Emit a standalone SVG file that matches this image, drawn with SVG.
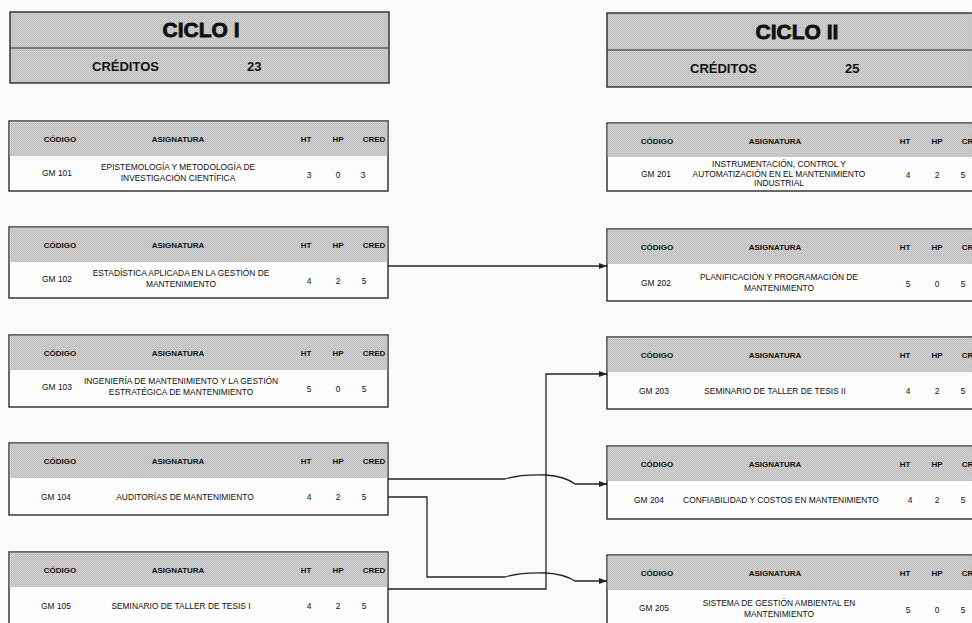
<svg xmlns="http://www.w3.org/2000/svg" width="972" height="623" viewBox="0 0 972 623">
<style>
  text { font-family: "Liberation Sans", Arial, sans-serif; fill: #111; }
  .title { font-size: 21px; font-weight: bold; text-anchor: middle; stroke: #111; stroke-width: 0.8px; }
  .cred { font-size: 13px; font-weight: bold; }
  .th { font-size: 8px; font-weight: bold; text-anchor: middle; }
  .td { font-size: 8.4px; text-anchor: middle; }
  .box { fill: #fcfcfc; stroke: #2a2a2a; stroke-width: 1.4; }
  .gray { fill: url(#dots); }
  .line { stroke: #2a2a2a; stroke-width: 1.2; }
  .conn { fill: none; stroke: #222; stroke-width: 1.3; }
</style>
<defs>
  <pattern id="dots" width="2" height="2" patternUnits="userSpaceOnUse">
    <rect width="2" height="2" fill="#d2d2d2"/>
    <rect width="1" height="1" fill="#b8b8b8"/>
    <rect x="1" y="1" width="1" height="1" fill="#c2c2c2"/>
  </pattern>
  <marker id="arr" viewBox="0 0 8 6" refX="8" refY="3" markerWidth="8" markerHeight="6" markerUnits="userSpaceOnUse" orient="auto">
    <path d="M0,0 L8,3 L0,6 z" fill="#222"/>
  </marker>
</defs>
<rect width="972" height="623" fill="#fafafa"/>

<g id="ciclo1">
  <rect x="10" y="12" width="379" height="71" class="gray" stroke="#2a2a2a" stroke-width="1.4"/>
  <line x1="10" y1="48" x2="389" y2="48" class="line"/>
  <text x="201" y="37" class="title">CICLO I</text>
  <text x="92" y="71" class="cred">CRÉDITOS</text>
  <text x="247" y="71" class="cred">23</text>
</g>
<g id="ciclo2">
  <rect x="607" y="13" width="380" height="74" class="gray" stroke="#2a2a2a" stroke-width="1.4"/>
  <line x1="607" y1="50" x2="987" y2="50" class="line"/>
  <text x="797" y="39" class="title">CICLO II</text>
  <text x="690" y="73" class="cred">CRÉDITOS</text>
  <text x="845" y="73" class="cred">25</text>
</g>

<g id="gm101" transform="translate(9,121)">
  <rect x="0" y="0" width="379" height="70" class="box"/>
  <rect x="0.7" y="0.7" width="377.6" height="34.3" class="gray"/>
  <text x="51" y="21" class="th">CÓDIGO</text><text x="169" y="21" class="th">ASIGNATURA</text>
  <text x="297" y="21" class="th">HT</text><text x="329" y="21" class="th">HP</text><text x="365" y="21" class="th">CRED</text>
  <text x="48" y="55" class="td">GM 101</text>
  <text x="169" y="49" class="td">EPISTEMOLOGÍA Y METODOLOGÍA DE</text>
  <text x="169" y="60" class="td">INVESTIGACIÓN CIENTÍFICA</text>
  <text x="300" y="57" class="td">3</text><text x="329" y="57" class="td">0</text><text x="354" y="57" class="td">3</text>
</g>
<g id="gm102" transform="translate(9,227)">
  <rect x="0" y="0" width="379" height="71" class="box"/>
  <rect x="0.7" y="0.7" width="377.6" height="34.3" class="gray"/>
  <text x="51" y="21" class="th">CÓDIGO</text><text x="169" y="21" class="th">ASIGNATURA</text>
  <text x="297" y="21" class="th">HT</text><text x="329" y="21" class="th">HP</text><text x="365" y="21" class="th">CRED</text>
  <text x="48" y="55" class="td">GM 102</text>
  <text x="172" y="49" class="td">ESTADÍSTICA APLICADA EN LA GESTIÓN DE</text>
  <text x="172" y="60" class="td">MANTENIMIENTO</text>
  <text x="300" y="57" class="td">4</text><text x="329" y="57" class="td">2</text><text x="355" y="57" class="td">5</text>
</g>
<g id="gm103" transform="translate(9,335)">
  <rect x="0" y="0" width="379" height="72" class="box"/>
  <rect x="0.7" y="0.7" width="377.6" height="34.3" class="gray"/>
  <text x="51" y="21" class="th">CÓDIGO</text><text x="169" y="21" class="th">ASIGNATURA</text>
  <text x="297" y="21" class="th">HT</text><text x="329" y="21" class="th">HP</text><text x="365" y="21" class="th">CRED</text>
  <text x="48" y="55" class="td">GM 103</text>
  <text x="172" y="49" class="td">INGENIERÍA DE MANTENIMIENTO Y LA GESTIÓN</text>
  <text x="172" y="60" class="td">ESTRATÉGICA DE MANTENIMIENTO</text>
  <text x="300" y="57" class="td">5</text><text x="329" y="57" class="td">0</text><text x="355" y="57" class="td">5</text>
</g>
<g id="gm104" transform="translate(9,443)">
  <rect x="0" y="0" width="379" height="72" class="box"/>
  <rect x="0.7" y="0.7" width="377.6" height="34.3" class="gray"/>
  <text x="51" y="21" class="th">CÓDIGO</text><text x="169" y="21" class="th">ASIGNATURA</text>
  <text x="297" y="21" class="th">HT</text><text x="329" y="21" class="th">HP</text><text x="365" y="21" class="th">CRED</text>
  <text x="47" y="57" class="td">GM 104</text>
  <text x="176" y="57" class="td">AUDITORÍAS DE MANTENIMIENTO</text>
  <text x="300" y="57" class="td">4</text><text x="329" y="57" class="td">2</text><text x="355" y="57" class="td">5</text>
</g>
<g id="gm105" transform="translate(9,552)">
  <rect x="0" y="0" width="379" height="72" class="box"/>
  <rect x="0.7" y="0.7" width="377.6" height="34.3" class="gray"/>
  <text x="51" y="21" class="th">CÓDIGO</text><text x="169" y="21" class="th">ASIGNATURA</text>
  <text x="297" y="21" class="th">HT</text><text x="329" y="21" class="th">HP</text><text x="365" y="21" class="th">CRED</text>
  <text x="47" y="57" class="td">GM 105</text>
  <text x="172" y="57" class="td">SEMINARIO DE TALLER DE TESIS I</text>
  <text x="300" y="57" class="td">4</text><text x="329" y="57" class="td">2</text><text x="355" y="57" class="td">5</text>
</g>

<g id="gm201" transform="translate(607,123)">
  <rect x="0" y="0" width="380" height="68" class="box"/>
  <rect x="0.7" y="0.7" width="378.6" height="33.3" class="gray"/>
  <text x="50" y="21" class="th">CÓDIGO</text><text x="168" y="21" class="th">ASIGNATURA</text>
  <text x="298" y="21" class="th">HT</text><text x="330" y="21" class="th">HP</text><text x="366" y="21" class="th">CRED</text>
  <text x="49" y="54" class="td">GM 201</text>
  <text x="172" y="44" class="td">INSTRUMENTACIÓN, CONTROL Y</text>
  <text x="172" y="54" class="td">AUTOMATIZACIÓN EN EL MANTENIMIENTO</text>
  <text x="172" y="63" class="td">INDUSTRIAL</text>
  <text x="301" y="55" class="td">4</text><text x="330" y="55" class="td">2</text><text x="356" y="55" class="td">5</text>
</g>
<g id="gm202" transform="translate(607,229)">
  <rect x="0" y="0" width="380" height="72" class="box"/>
  <rect x="0.7" y="0.7" width="378.6" height="34.3" class="gray"/>
  <text x="50" y="21" class="th">CÓDIGO</text><text x="168" y="21" class="th">ASIGNATURA</text>
  <text x="298" y="21" class="th">HT</text><text x="330" y="21" class="th">HP</text><text x="366" y="21" class="th">CRED</text>
  <text x="49" y="57" class="td">GM 202</text>
  <text x="172" y="51" class="td">PLANIFICACIÓN Y PROGRAMACIÓN DE</text>
  <text x="172" y="62" class="td">MANTENIMIENTO</text>
  <text x="301" y="58" class="td">5</text><text x="330" y="58" class="td">0</text><text x="356" y="58" class="td">5</text>
</g>
<g id="gm203" transform="translate(607,337)">
  <rect x="0" y="0" width="380" height="72" class="box"/>
  <rect x="0.7" y="0.7" width="378.6" height="34.3" class="gray"/>
  <text x="50" y="21" class="th">CÓDIGO</text><text x="168" y="21" class="th">ASIGNATURA</text>
  <text x="298" y="21" class="th">HT</text><text x="330" y="21" class="th">HP</text><text x="366" y="21" class="th">CRED</text>
  <text x="47" y="57" class="td">GM 203</text>
  <text x="168" y="57" class="td">SEMINARIO DE TALLER DE TESIS II</text>
  <text x="301" y="57" class="td">4</text><text x="330" y="57" class="td">2</text><text x="356" y="57" class="td">5</text>
</g>
<g id="gm204" transform="translate(607,446)">
  <rect x="0" y="0" width="380" height="73" class="box"/>
  <rect x="0.7" y="0.7" width="378.6" height="34.3" class="gray"/>
  <text x="50" y="21" class="th">CÓDIGO</text><text x="168" y="21" class="th">ASIGNATURA</text>
  <text x="298" y="21" class="th">HT</text><text x="330" y="21" class="th">HP</text><text x="366" y="21" class="th">CRED</text>
  <text x="42" y="57" class="td">GM 204</text>
  <text x="174" y="57" class="td">CONFIABILIDAD Y COSTOS EN MANTENIMIENTO</text>
  <text x="303" y="57" class="td">4</text><text x="330" y="57" class="td">2</text><text x="356" y="57" class="td">5</text>
</g>
<g id="gm205" transform="translate(607,555)">
  <rect x="0" y="0" width="380" height="72" class="box"/>
  <rect x="0.7" y="0.7" width="378.6" height="34.3" class="gray"/>
  <text x="50" y="21" class="th">CÓDIGO</text><text x="168" y="21" class="th">ASIGNATURA</text>
  <text x="298" y="21" class="th">HT</text><text x="330" y="21" class="th">HP</text><text x="366" y="21" class="th">CRED</text>
  <text x="47" y="56" class="td">GM 205</text>
  <text x="172" y="51" class="td">SISTEMA DE GESTIÓN AMBIENTAL EN</text>
  <text x="172" y="62" class="td">MANTENIMIENTO</text>
  <text x="301" y="58" class="td">5</text><text x="330" y="58" class="td">0</text><text x="356" y="58" class="td">5</text>
</g>

<g id="connectors">
  <path class="conn" d="M388,266 H607" marker-end="url(#arr)"/>
  <path class="conn" d="M388,589 H546 V374 H607" marker-end="url(#arr)"/>
  <path class="conn" d="M388,479 H505 Q522,474 546,475 Q564,476 575,484 H607" marker-end="url(#arr)"/>
  <path class="conn" d="M388,497 H427 V577 H505 Q522,572 546,573 Q564,574 575,581 H607" marker-end="url(#arr)"/>
</g>
</svg>
